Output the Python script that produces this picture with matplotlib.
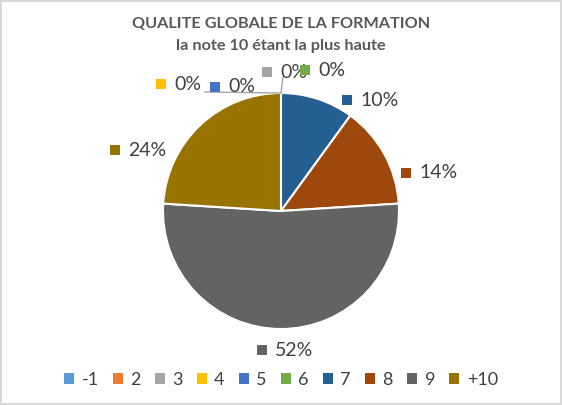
import matplotlib
matplotlib.use("Agg")
import matplotlib.pyplot as plt
from matplotlib.patches import Patch

plt.rcParams['font.family'] = ['Lato', 'DejaVu Sans']

# ---- data ----
categories = ['-1', '2', '3', '4', '5', '6', '7', '8', '9', '+10']
values = [0, 0, 0, 0, 0, 0, 10, 14, 52, 24]
colors = ['#5B9BD5', '#ED7D31', '#A5A5A5', '#FFC000', '#4472C4',
          '#70AD47', '#255E91', '#9E480E', '#636363', '#997300']
title_lines = ['QUALITE GLOBALE DE LA FORMATION', 'la note 10 étant la plus haute']

# ---- layout (pixel coords, origin top-left) ----
W, H = 562, 405
center_px = (281, 211)
radius_px = 118
label_pos = {  # square-key centre of each data label
    '3': (267, 72), '4': (161, 84), '5': (215, 87), '6': (305, 70),
    '7': (347, 100), '8': (406, 173), '9': (262, 350), '+10': (115, 150),
}
leader_ends = [(283, 77), (205, 92)]

text_col = '#404040'
fig = plt.figure(figsize=(W / 100, H / 100), dpi=100)
fig.patch.set_facecolor('white')
fig.patch.set_edgecolor('#D9D9D9')
fig.patch.set_linewidth(1.5)

ax = fig.add_axes([0, 0, 1, 1])
cx, cy = center_px[0], H - center_px[1]
ax.pie(values, colors=colors, startangle=90, counterclock=False,
       center=(cx, cy), radius=radius_px,
       wedgeprops=dict(edgecolor='white', linewidth=1.5))
ax.set_xlim(0, W)
ax.set_ylim(0, H)
ax.set_aspect('auto')
ax.axis('off')

# leader lines from top of pie
for ex, ey in leader_ends:
    ax.plot([cx, ex], [cy + radius_px, H - ey], color='#A6A6A6', lw=1, zorder=1)

# data labels with colour key
for cat, val, col in zip(categories, values, colors):
    if cat not in label_pos:
        continue
    sx, sy = label_pos[cat]
    ax.scatter([sx], [H - sy], marker='s', s=60, color=col, zorder=5, linewidths=0)
    ax.text(sx + 13, H - sy, f'{val}%', ha='left', va='center',
            fontsize=14, color=text_col, zorder=5)

# title
fig.text(0.5, 1 - 24 / H, title_lines[0], ha='center', va='center',
         fontsize=11.7, fontweight='bold', color='#595959')
fig.text(0.5, 1 - 46 / H, title_lines[1], ha='center', va='center',
         fontsize=11.7, fontweight='bold', color='#595959')

# legend
handles = [Patch(facecolor=c, edgecolor='none') for c in colors]
fig.legend(handles, categories, loc='center', bbox_to_anchor=(0.5, 25 / H),
           ncol=len(categories), frameon=False, fontsize=13,
           handlelength=0.55, handleheight=0.55, handletextpad=0.4,
           columnspacing=0.8, labelcolor=text_col)

fig.savefig('out.png', dpi=100, facecolor=fig.get_facecolor(),
            edgecolor=fig.get_edgecolor())
